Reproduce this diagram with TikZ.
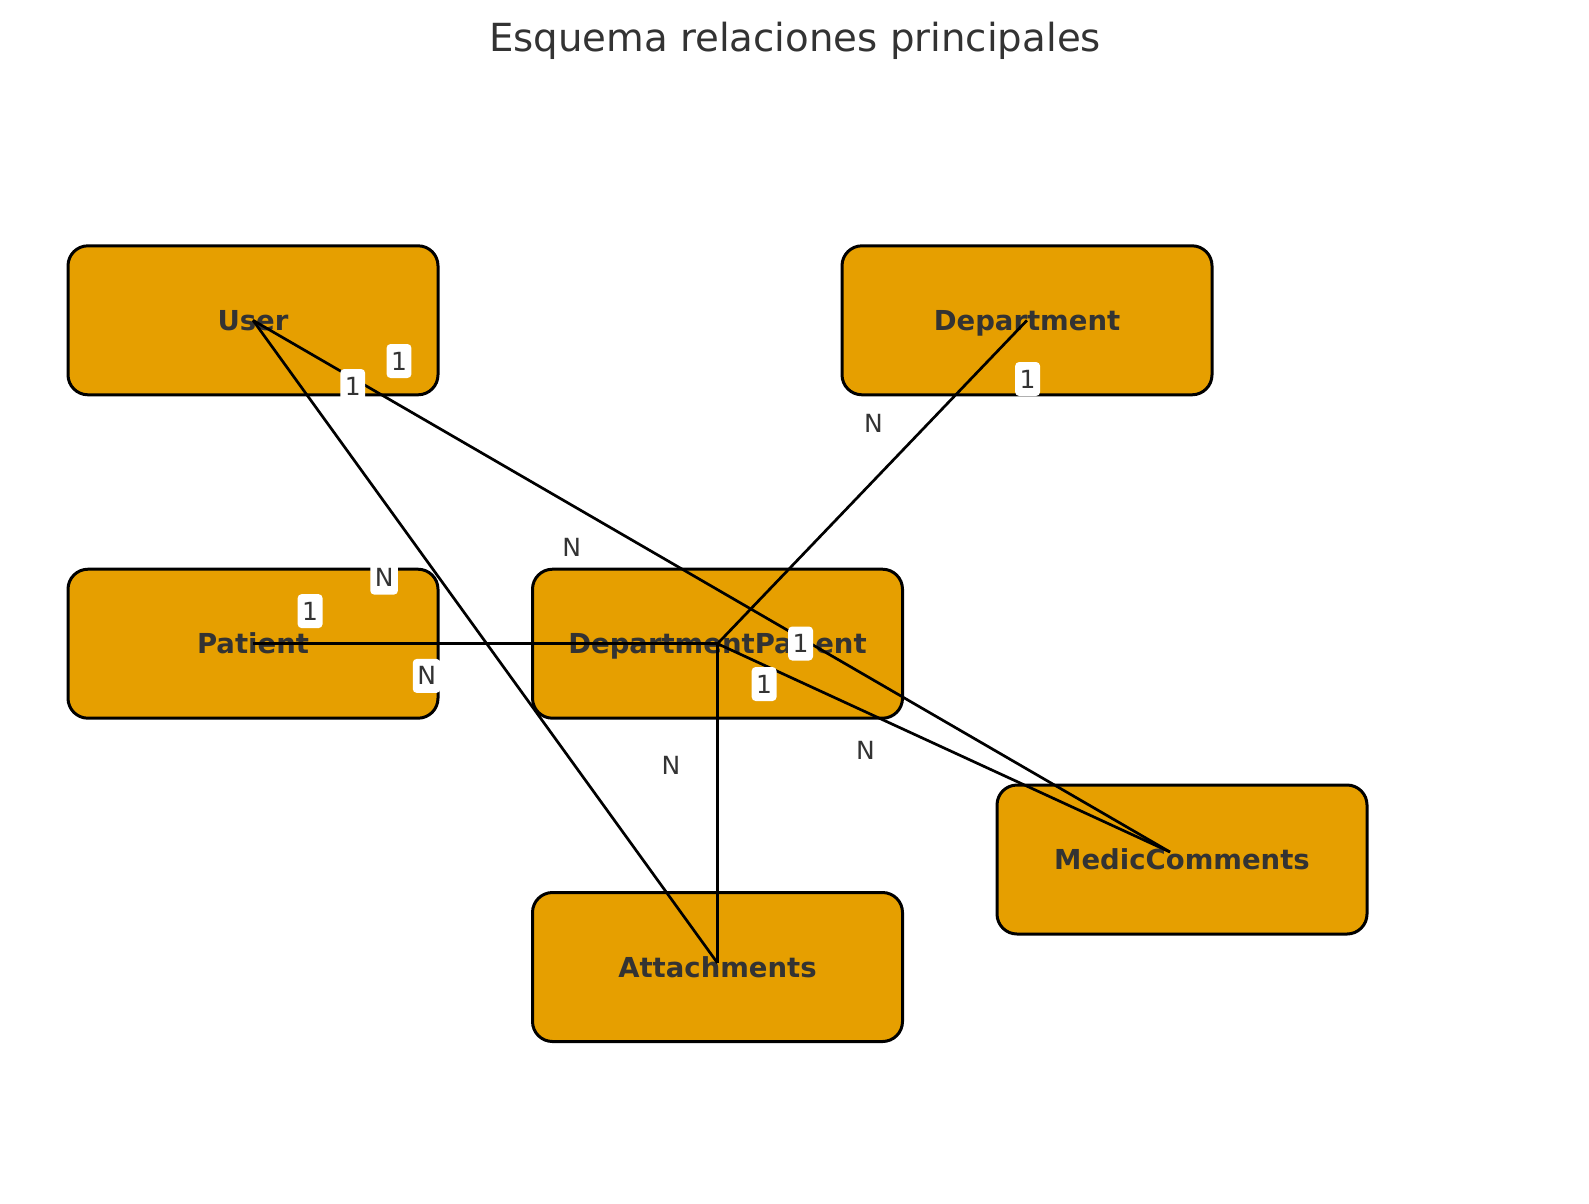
\documentclass[tikz,border=0pt]{standalone}
\usepackage{fontspec}
\setmainfont{DejaVu Sans}
\usepackage{tikz}
\usepackage{xcolor}
\usetikzlibrary{positioning}
\definecolor{boxorange}{HTML}{E69F00}
\definecolor{txtgray}{HTML}{333333}
\begin{document}
\begin{tikzpicture}[x=1pt,y=-1pt,
  entity/.style={draw=black,line width=3pt,fill=boxorange,rounded corners=20pt,
    minimum width=370pt,minimum height=149pt,inner sep=0pt,text=txtgray,
    font=\fontsize{27.5}{30}\selectfont\bfseries,text height=20pt,text depth=0pt},
  rel/.style={draw=black,line width=2.7pt},
  card/.style={fill=white,rounded corners=4pt,inner xsep=4.5pt,inner ysep=0pt,
    minimum height=34pt,text=txtgray,font=\fontsize{25}{28}\selectfont,
    text height=18pt,text depth=0pt},
  heading/.style={text=txtgray,font=\fontsize{38.7}{42}\selectfont,anchor=base}]
\useasboundingbox (0,0) rectangle (1589,1203);
\node[heading] (title) at (795,51) {Esquema relaciones principales};
% tables
\node[entity] (user) at (253,320.3) {User};
\node[entity] (dept) at (1027,320.3) {Department};
\node[entity] (patient) at (253,643.7) {Patient};
\node[entity] (deptpat) at (717.5,643.7) {DepartmentPatient};
\node[entity] (medic) at (1182,859.5) {MedicComments};
\node[entity] (attach) at (717.5,967) {Attachments};
\coordinate (medicpt) at ([shift={(-12,-7.5)}]medic.center);
\coordinate (attachpt) at ([shift={(0,-4)}]attach.center);
% relations
\draw[rel] (user.center) -- (attachpt);
\draw[rel] (user.center) -- (medicpt);
\draw[rel] (dept.center) -- (deptpat.center);
\draw[rel] (patient.center) -- (deptpat.center);
\draw[rel] (deptpat.center) -- (attachpt);
\draw[rel] (deptpat.center) -- (medicpt);
% cardinalities
\node[card] (c1) at (399,361) {1};
\node[card] (c2) at (352.7,386) {1};
\node[card] (c3) at (1027.6,379) {1};
\node[card] (c4) at (384.1,577.6) {N};
\node[card] (c5) at (310.1,611.1) {1};
\node[card] (c6) at (426.6,675.9) {N};
\node[card] (c7) at (800.6,643.5) {1};
\node[card] (c8) at (764.1,684) {1};
\node[card] (c9) at (873.5,423) {N};
\node[card] (c10) at (571.6,547.2) {N};
\node[card] (c11) at (670.9,765.1) {N};
\node[card] (c12) at (865.4,750.9) {N};
\end{tikzpicture}
\end{document}
